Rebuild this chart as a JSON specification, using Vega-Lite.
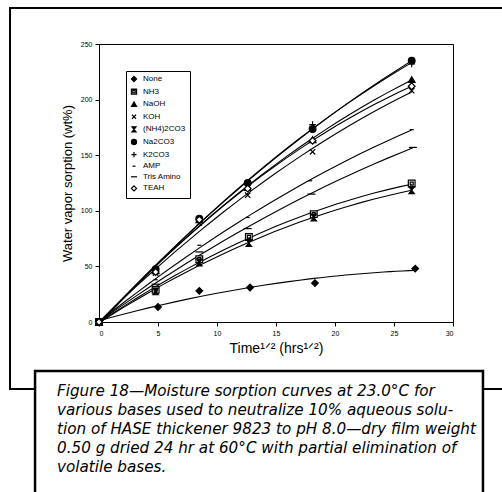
{
  "$schema": "https://vega.github.io/schema/vega-lite/v6.json",
  "width": 354,
  "height": 278,
  "autosize": {"type": "none"},
  "padding": {"left": 99, "top": 44, "right": 49, "bottom": 170},
  "background": "white",
  "config": {
    "view": {"stroke": "black", "strokeWidth": 1},
    "font": "Liberation Sans",
    "axis": {"grid": false, "domainColor": "black", "tickColor": "black", "labelColor": "black", "titleColor": "black", "labelFontSize": 7, "tickSize": 4, "titleFontWeight": "normal", "labelFont": "Liberation Sans", "titleFont": "Liberation Sans"}
  },
  "data": {
    "values": [
      {"series": "None", "x": 0, "y": 0}, {"series": "None", "x": 5.0, "y": 13.5}, {"series": "None", "x": 8.5, "y": 28}, {"series": "None", "x": 12.8, "y": 31}, {"series": "None", "x": 18.3, "y": 35}, {"series": "None", "x": 26.8, "y": 48},
      {"series": "NH3", "x": 0, "y": 0}, {"series": "NH3", "x": 4.8, "y": 29}, {"series": "NH3", "x": 8.5, "y": 56.5}, {"series": "NH3", "x": 12.7, "y": 76.5}, {"series": "NH3", "x": 18.2, "y": 97}, {"series": "NH3", "x": 26.5, "y": 124.5},
      {"series": "NaOH", "x": 0, "y": 0}, {"series": "NaOH", "x": 4.8, "y": 46}, {"series": "NaOH", "x": 8.5, "y": 92}, {"series": "NaOH", "x": 12.6, "y": 121}, {"series": "NaOH", "x": 18.1, "y": 164}, {"series": "NaOH", "x": 26.5, "y": 218}, 
      {"series": "KOH", "x": 0, "y": 0}, {"series": "KOH", "x": 4.8, "y": 44}, {"series": "KOH", "x": 8.5, "y": 89}, {"series": "KOH", "x": 12.6, "y": 114}, {"series": "KOH", "x": 18.1, "y": 153}, {"series": "KOH", "x": 26.5, "y": 208},
      {"series": "(NH4)2CO3", "x": 0, "y": 0}, {"series": "(NH4)2CO3", "x": 4.8, "y": 27.5}, {"series": "(NH4)2CO3", "x": 8.5, "y": 53.5}, {"series": "(NH4)2CO3", "x": 12.7, "y": 71}, {"series": "(NH4)2CO3", "x": 18.2, "y": 94}, {"series": "(NH4)2CO3", "x": 26.5, "y": 118.5},
      {"series": "Na2CO3", "x": 0, "y": 0}, {"series": "Na2CO3", "x": 4.8, "y": 47.5}, {"series": "Na2CO3", "x": 8.5, "y": 93}, {"series": "Na2CO3", "x": 12.6, "y": 125}, {"series": "Na2CO3", "x": 18.1, "y": 173.5}, {"series": "Na2CO3", "x": 26.5, "y": 235},
      {"series": "K2CO3", "x": 0, "y": 0}, {"series": "K2CO3", "x": 4.8, "y": 46}, {"series": "K2CO3", "x": 8.5, "y": 91}, {"series": "K2CO3", "x": 12.6, "y": 125}, {"series": "K2CO3", "x": 18.1, "y": 177.5}, {"series": "K2CO3", "x": 26.5, "y": 232},
      {"series": "AMP", "x": 0, "y": 0}, {"series": "AMP", "x": 4.8, "y": 38}, {"series": "AMP", "x": 8.5, "y": 69}, {"series": "AMP", "x": 12.6, "y": 94}, {"series": "AMP", "x": 17.9, "y": 127}, {"series": "AMP", "x": 26.5, "y": 173},
      {"series": "Tris Amino", "x": 0, "y": 0}, {"series": "Tris Amino", "x": 4.8, "y": 34}, {"series": "Tris Amino", "x": 8.5, "y": 63}, {"series": "Tris Amino", "x": 12.6, "y": 84}, {"series": "Tris Amino", "x": 18.0, "y": 115}, {"series": "Tris Amino", "x": 26.6, "y": 157},
      {"series": "TEAH", "x": 0, "y": 0}, {"series": "TEAH", "x": 4.8, "y": 45}, {"series": "TEAH", "x": 8.5, "y": 92}, {"series": "TEAH", "x": 12.6, "y": 120}, {"series": "TEAH", "x": 18.1, "y": 163}, {"series": "TEAH", "x": 26.5, "y": 212}
    ]
  },
  "layer": [
    {
      "data": {"values": [{}]},
      "mark": {"type": "rect", "clip": false, "fill": null, "stroke": "black", "strokeWidth": 2},
      "encoding": {
        "x": {"datum": -7.54, "scale": {"domain": [0, 30], "nice": false}},
        "x2": {"datum": 35},
        "y": {"datum": 282.4, "scale": {"domain": [0, 250], "nice": false}},
        "y2": {"datum": -60.3}
      }
    },
    {
      "data": {"values": [{}]},
      "mark": {"type": "rect", "clip": false, "fill": "white", "stroke": "black", "strokeWidth": 2.5},
      "encoding": {
        "x": {"datum": -5.42},
        "x2": {"datum": 32.54},
        "y": {"datum": -44.1},
        "y2": {"datum": -160}
      }
    },
    {
      "data": {"values": [{}]},
      "mark": {"type": "text", "clip": false, "align": "left", "baseline": "top", "font": "DejaVu Sans", "fontStyle": "italic", "fontSize": 15.2, "lineHeight": 19, "color": "black",
        "text": ["Figure 18\u2014Moisture sorption curves at 23.0\u00b0C for", "various bases used to neutralize 10% aqueous solu-", "tion of HASE thickener 9823 to pH 8.0\u2014dry film weight", "0.50 g dried 24 hr at 60\u00b0C with partial elimination of", "volatile bases."]},
      "encoding": {
        "x": {"datum": -3.56},
        "y": {"datum": -55.5}
      }
    },
    {
      "transform": [{"regression": "y", "on": "x", "groupby": ["series"], "method": "poly", "order": 2}],
      "mark": {"type": "line", "color": "black", "strokeWidth": 1.1},
      "encoding": {
        "x": {"field": "x", "type": "quantitative"},
        "y": {"field": "y", "type": "quantitative"},
        "detail": {"field": "series"}
      }
    },
    {
      "mark": {"type": "point", "strokeWidth": 1.2, "size": 45, "opacity": 1},
      "encoding": {
        "x": {"field": "x", "type": "quantitative", "scale": {"domain": [0, 30], "nice": false},
          "axis": {"values": [0, 5, 10, 15, 20, 25, 30], "title": "Time\u00b9\u141f\u00b2 (hrs\u00b9\u141f\u00b2)", "titleFontSize": 14, "titlePadding": 5, "labelPadding": 3}},
        "y": {"field": "y", "type": "quantitative", "scale": {"domain": [0, 250], "nice": false},
          "axis": {"values": [0, 50, 100, 150, 200, 250], "title": "Water vapor sorption (wt%)", "titleFontSize": 13, "titlePadding": 6, "labelPadding": 3}},
        "shape": {"field": "series", "type": "nominal",
          "scale": {"domain": ["None", "NH3", "NaOH", "KOH", "(NH4)2CO3", "Na2CO3", "K2CO3", "AMP", "Tris Amino", "TEAH"],
            "range": ["diamond", "M-1,-1H1V1H-1Z M-0.45,-0.45V0.45H0.45V-0.45Z", "triangle-up", "M-0.8,-0.8L0.8,0.8M-0.8,0.8L0.8,-0.8", "M-0.8,-1H0.8L-0.8,1H0.8Z", "circle", "M-1,0H1M0,-1V1", "M-0.6,0H0.6", "M-1.2,0H1.2", "diamond"]},
          "legend": {"title": null, "orient": "none", "legendX": 27, "legendY": 27, "strokeColor": "black", "padding": 4, "labelFontSize": 8, "labelFont": "Liberation Sans", "labelColor": "black", "symbolSize": 26, "rowPadding": 2.6, "labelOffset": 5, "symbolStrokeWidth": 1.2}},
        "fill": {"field": "series", "type": "nominal",
          "scale": {"domain": ["None", "NH3", "NaOH", "KOH", "(NH4)2CO3", "Na2CO3", "K2CO3", "AMP", "Tris Amino", "TEAH"],
            "range": ["black", "white", "black", "black", "black", "black", "black", "black", "black", "white"]}},
        "stroke": {"field": "series", "type": "nominal",
          "scale": {"domain": ["None", "NH3", "NaOH", "KOH", "(NH4)2CO3", "Na2CO3", "K2CO3", "AMP", "Tris Amino", "TEAH"],
            "range": ["black", "black", "black", "black", "black", "black", "black", "black", "black", "black"]}}
      }
    }
  ]
}
